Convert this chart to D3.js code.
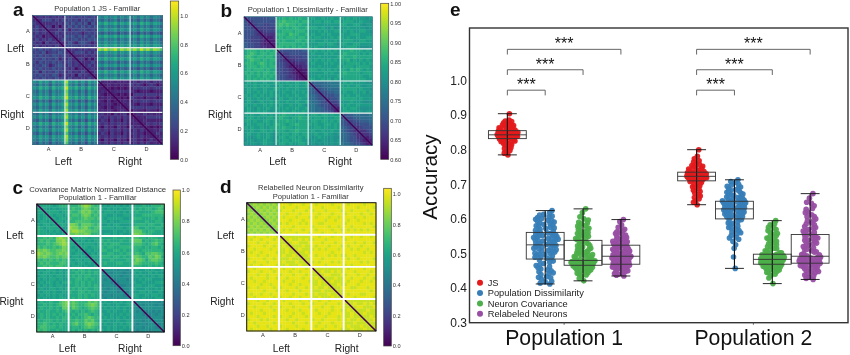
<!DOCTYPE html>
<html>
<head>
<meta charset="utf-8">
<style>
  html, body { margin: 0; padding: 0; background: #fff; }
  svg { display: block; filter: blur(0.35px); }
  text { font-family: "Liberation Sans", Arial, sans-serif; }
  .tick text { font-family: "Liberation Sans", Arial, sans-serif; }
</style>
<script src="https://cdn.jsdelivr.net/npm/d3@7"></script>
</head>
<body>
<script>
// heatmaps: lower triangle of each symmetric matrix, one base-36 digit per neuron pair
const blockNames = ["A", "B", "C", "D"];
const sideNames = ["Left", "Right"];

const jsRows = [
  "0", "30", "430", "3530", "45340", "353430", "4341330", "35343530", "434153430", "3534343530",
  "5464546545 0", "4546245465 30", "5464546545 430", "4546454625 3530", "5364546454 45340",
  "4546524565 353430", "5464546454 4341330", "4626454645 35343530", "5464546524 434153430", "4546454645 3534343530",
  "b9dac8dabd jcad9c8dac 0", "97b8a6b89b ha8b7a6b8a 20", "caebd9ebce kdbead9ebd 320", "97b8a6b89b ha8b7a6b8a 2320",
  "a8c9b7c9ac ib9c8b7c9b 32120", "caebd9ebce kdbead9ebd 232320", "86a795a78a g97a695a79 3213120",
  "b9dac8dabd jcad9c8dac 23232120", "97b8a6b89b ha8b7a6b8a 321312320", "b9dac8dabd jcad9c8dac 2323212320",
  "97b8a6b89b ha8b7a6b8a 3423142341 0", "b9dac8dabd jcad9c8dac 4342434243 20", "86a795a78a g97a695a79 2431423142 320",
  "caebd9ebce kdbead9ebd 4342434342 2320", "97b8a6b89b ha8b7a6b8a 3142314231 42320", "b9dac8dabd jcad9c8dac 4342434243 242420",
  "86a795a78a g97a695a79 2431423142 3423120", "b9dac8dabd jcad9c8dac 4342434342 24242320",
  "a8c9b7c9ac ib9c8b7c9b 3142314231 342312420", "86a795a78a g97a695a79 4342434243 2424242320"
];

const dissimRows = [
  "0", "50", "540", "5540", "55540", "555430", "5544430", "55444320", "655443220", "6554433220",
  "cdddcdcdcd 0", "cdedcddcdd 50", "dedcddcddc 540", "cdeddcdcdd 5430", "dddcdedcdc 55430",
  "cdddcddcdd 554320", "cdcdddcdcc 5544320", "dcdcdcddcd 55443210", "cdccdcdcdc 655433210", "cdcdcdcdcc 6554432210",
  "bcbcbbcbbc cbbcbbcbbc 0", "cbbcbcbcbb bcbbcbcbbc 60", "bcbcbbcbbc cbbcbbcbbb 760", "bcbbcbcbcb bbcbbcbbcb 7650",
  "cbbcbcbbcb cbbcbbcbbc 77650", "bcbbcbbcba bcbbcbbcbb 776550", "bcbabcbbcb cbbcbbcbbc 8776540",
  "cbbcbbcbcb bcbbcbbcba 88765540", "bcbacbbcbb cbbcbbcbbc 887765430", "bcbbcbcbab bbcbbcbbcb 8877665420",
  "cbcbbccbcb ccdccbcccb bccbccbcbb 0", "bccbcbbccb cdccbccdcc cbccbcbbcc 50", "ccbcbbccbc cccdccbccc bccbccbcbc 650",
  "bcbbccbcbc dccbccdccc cbcbbccbcb 6540", "cbcbbcbbcc ccdccbcccc bbccbcbbcb 76540", "bbcbbccbcb cccbccdccc bcbbcbbcbb 765430",
  "bcbbcbbcba cbccbccbcc bbcbbcbbab 7765430", "bbabcbbcba bccbccbcbc babcbbabaa 77655330",
  "abbabbcbba cbccbcccbb abbabbabab 776554320", "babbabcbba bccbcbbccb ababababab 8776554320"
];

const covRows = [
  "0", "c0", "cc0", "cbc0", "cbcc0", "bccbc0", "cbccbc0", "dcbcccc0", "dccbcbcb0", "dcccbcbbc0",
  "ddededghgf 0", "dededdgghf c0", "dddedefghg cc0", "ededdedegf cbc0", "gfgfeeffgf ccbc0",
  "hgfgfefgfg cbccb0", "gfgfeefeff bccbcb0", "ededededed cbccbcc0", "dededddeed ccbccbcb0", "ddededeedd bcccbcbbc0",
  "bcbcccbcbb cdcddcdccc 0", "cbccbcbcbc ccdcdcdcdc a0", "bccbcbccbc cdcdcddccc aa0", "cbcbccbcbb ccddcdcdcc a9a0",
  "bcbccbcbcc dcdcdcdccc aaa90", "cbcbcbccbb ccdcdcdcdc 9aaa90", "bcbbccbcbc cdcdcdccdc aa9aa90",
  "cbccbcbbcb dccddcdccc a9aaa9a0", "bcbcbcbcbb cccdcdcdcc 9aa9aaa90", "cbcbbcbccb cdcdcdcccc a9aaa9aaa0",
  "cdccdccefg efedddfefd bcbbcbcbcb 0", "ccdcdcdefg efeddefgfd cbcbbcbbcc a0", "cdccdcdcff dfedcdefed bcbcbcbcbb aa0",
  "dccdccdcde dcdcdcdedc bbcbcbbcbc a9a0", "cdcdcdcdcd cdcddedcdc cbbcbbcbcb aaa90", "cdcdccdcdd dcdcdefedd bcbcbcbcbb 9aaa90",
  "dcdddcdcdc ddeddfefdc cbcbbcbbcb aaa9aa0", "ddedcdcdcc defddfgfed bcbbcbcbcc a9aa9aa0",
  "deedddcdcc cddcdefedc bbcbcbbcbc 9aa9aaa90", "ededccdccc cdcdcdcdcd cbcbcbcbbb a9aaa9aaa0"
];

const relabelRows = [
  "0", "h0", "ih0", "hih0", "ihih0", "hihih0", "ihihih0", "hihihih0", "ihihihih0", "hihihihih0",
  "kkjkkkjkkj 0", "kjkkjkkkjk j0", "kkkjkkjkkk jj0", "jkkkkjkkjk jkj0", "kkjkkkkjkk jjkj0",
  "kjkkjkkkkj jjkjj0", "kkkjkkjkkk jkjjkj0", "jkkkkjkkjk jjjkjjj0", "kkjkkkjkkk jkjjjkjj0", "kjkkjkkkkj jjkjjjkjj0",
  "kkjkkkkjkk kjkkjkkkjk 0", "jkkkjkkkjk kkkjkkjkkk j0", "kkkjkkjkkk jkkkjkkkjk jj0", "kjkkkkjkkj kkjkkkkjkk jkj0",
  "kkjkkjkkkk kjkkjkkkkj jjkj0", "kkkkjkkjkk kkkjkkjkkk jjkjj0", "jkkjkkkkjk jkkkkjkkjk jkjjkj0",
  "kkkkkjkkkj kkjkkkjkkk jjjkjjj0", "kjkkjkkjkk kkkkjkkkjk jkjjjkjj0", "kkjkkkkkjk jkkjkkjkkk jjkjjjkjj0",
  "kkkjkkjkkk kjkkkkjkkj kkjkkjkkkk 0", "jkkkkjkkjk kkkjkkkjkk jkkkjkkkjk j0", "kkjkkkkjkk jkkkjkkkkj kkkjkkjkkk jj0",
  "kkkkjkkkjk kkjkkkjkkk kjkkkkjkkj jkj0", "kjkkkjkkkk kkkkjkkjkk kkjkkjkkkk jjkj0", "kkkjkkkkjk jkkjkkkkjk kkkkjkkkjk jjkjj0",
  "jkkkjkjkkk kkjkkjkkkk jkkjkkkkjk jkjjkj0", "kkjkkkkkjk kkkkjkkkjk kkjkkkjkkk jjjkjjj0",
  "kkkjkkjkkk jkkkkjkkkk kjkkjkkjkk jkjjjkjj0", "kjkkkkkjkk kkjkkkkjkk kkkjkkkkkj jjkjjjkjj0"
];

const barTicks = [0, 0.2, 0.4, 0.6, 0.8, 1.0];
const dissimBarTicks = [0.6, 0.65, 0.7, 0.75, 0.8, 0.85, 0.9, 0.95, 1.0];

// accuracy per run, one list per method and population
const populations = ["Population 1", "Population 2"];
const methods = ["JS", "Population Dissimilarity", "Neuron Covariance", "Relabeled Neurons"];
const accTicks = [0.3, 0.4, 0.5, 0.6, 0.7, 0.8, 0.9, 1.0];

const js1 = [.785,.79,.795,.798,.803,.806,.808,.812,.815,.817,.819,.821,.823,.825,.826,.828,.829,.831,
  .832,.833,.834,.834,.835,.836,.836,.837,.838,.838,.839,.839,.84,.84,.841,.841,.842,.842,
  .843,.843,.844,.845,.845,.846,.847,.847,.848,.849,.849,.85,.851,.851,.852,.853,.854,.854,
  .856,.857,.858,.86,.861,.863,.865,.866,.868,.87,.872,.874,.876,.878,.881,.883,.886,.904];
const pd1 = [.412,.414,.418,.42,.426,.43,.433,.439,.442,.447,.45,.453,.459,.462,.467,.471,.475,.481,
  .484,.486,.49,.493,.495,.498,.5,.501,.504,.507,.509,.511,.513,.516,.518,.52,.522,.524,
  .526,.527,.53,.533,.534,.537,.538,.54,.543,.544,.547,.548,.551,.552,.555,.556,.558,.56,
  .563,.565,.57,.572,.576,.58,.582,.584,.588,.591,.593,.596,.601,.604,.608,.611,.618,.624,
  .431,.444,.455,.465,.478,.489,.497,.506,.515,.523,.529,.536,.541,.546,.553,.559,.567,.574,.579,.586,.594,.599,.606,.613];
const nc1 = [.421,.428,.434,.438,.441,.444,.447,.449,.451,.453,.455,.457,.459,.46,.462,.463,.465,.466,
  .467,.468,.469,.47,.471,.472,.473,.473,.474,.475,.475,.476,.477,.477,.478,.478,.479,.48,
  .482,.485,.488,.49,.493,.496,.498,.501,.504,.507,.51,.513,.516,.519,.523,.527,.531,.537,
  .54,.544,.547,.551,.554,.558,.561,.565,.569,.573,.577,.581,.586,.59,.597,.606,.618,.629,
  .443,.452,.458,.464,.47,.474,.479,.484,.491,.497,.503,.509,.515,.522,.528,.535,.543,.55,.556,.563,.571,.579,.588,.6];
const rn1 = [.435,.437,.44,.443,.446,.449,.451,.453,.455,.457,.459,.46,.462,.463,.465,.466,.467,.468,
  .47,.471,.473,.474,.476,.477,.478,.48,.481,.482,.483,.485,.486,.487,.488,.489,.49,.491,
  .493,.494,.496,.498,.499,.501,.503,.505,.507,.508,.51,.512,.514,.516,.518,.52,.522,.523,
  .525,.527,.529,.531,.533,.535,.537,.54,.543,.546,.55,.555,.56,.563,.57,.576,.592,.598,
  .442,.45,.456,.461,.466,.472,.477,.482,.487,.492,.497,.502,.507,.512,.517,.522,.528,.534,.54,.547,.553,.558,.566,.582];
const js2 = [.641,.648,.653,.658,.662,.666,.671,.675,.679,.683,.687,.69,.693,.696,.699,.702,.705,.708,
  .71,.711,.712,.713,.714,.715,.716,.716,.717,.718,.718,.719,.72,.72,.721,.721,.722,.722,
  .723,.724,.724,.725,.726,.726,.727,.728,.728,.729,.73,.73,.731,.732,.732,.733,.734,.734,
  .736,.737,.739,.74,.742,.744,.746,.748,.75,.752,.754,.757,.76,.764,.768,.774,.781,.8];
const pd2 = [.457,.49,.515,.525,.535,.541,.547,.552,.557,.562,.566,.57,.575,.579,.583,.587,.592,.597,
  .6,.603,.605,.607,.609,.611,.612,.614,.616,.617,.619,.62,.622,.623,.624,.626,.627,.628,
  .63,.631,.632,.633,.635,.636,.637,.638,.639,.64,.641,.642,.644,.645,.646,.647,.649,.65,
  .652,.654,.656,.658,.66,.663,.665,.668,.671,.674,.677,.68,.684,.688,.692,.698,.705,.713,
  .545,.56,.574,.588,.598,.606,.613,.62,.626,.632,.637,.642,.647,.652,.657,.662,.667,.672,.678,.683,.689,.694,.7,.708];
const nc2 = [.413,.429,.436,.44,.444,.447,.45,.452,.454,.456,.458,.46,.461,.462,.464,.465,.467,.468,
  .469,.47,.471,.472,.473,.474,.475,.475,.476,.477,.478,.478,.479,.48,.48,.481,.482,.482,
  .483,.484,.485,.486,.487,.487,.488,.489,.49,.491,.492,.493,.493,.494,.495,.496,.497,.497,
  .499,.502,.506,.51,.515,.52,.525,.53,.535,.54,.545,.551,.556,.562,.569,.576,.586,.595,
  .445,.452,.458,.463,.468,.473,.477,.481,.485,.489,.493,.497,.502,.508,.514,.521,.528,.535,.542,.55,.558,.566,.574,.583];
const rn2 = [.425,.428,.432,.436,.44,.444,.447,.45,.453,.456,.458,.46,.462,.464,.466,.468,.47,.471,
  .472,.474,.475,.476,.477,.478,.479,.48,.481,.482,.483,.484,.485,.486,.487,.489,.49,.491,
  .493,.496,.5,.504,.508,.512,.516,.52,.524,.528,.531,.535,.539,.542,.545,.548,.551,.554,
  .557,.561,.565,.569,.573,.578,.583,.588,.594,.6,.606,.612,.62,.628,.638,.648,.66,.673,
  .438,.448,.457,.465,.472,.478,.484,.49,.497,.505,.513,.521,.53,.538,.547,.556,.565,.575,.585,.596,.607,.618,.63,.645];

// [min, q1, median, q3, max]
const boxes1 = [[.785,.832,.843,.855,.904], [.412,.484,.525,.561,.624], [.421,.466,.48,.538,.629], [.435,.469,.492,.524,.598]];
const boxes2 = [[.641,.71,.723,.735,.8], [.457,.6,.629,.651,.713], [.413,.469,.483,.498,.595], [.425,.472,.492,.555,.673]];
const bracketLevels = [1.09, 1.031, 0.972];

let width = 850, height = 355;
let svg = d3.select("body").append("svg").attr("width", width).attr("height", height);

let defs = svg.append("defs");
defs.append("filter").attr("id", "soft").append("feGaussianBlur").attr("stdDeviation", 0.7);

let viridis = (domain) => d3.scaleSequential(d3.interpolateViridis).domain(domain);

// one heatmap panel with its colorbar
function drawHeat(p) {
    let n = p.rows.length;
    let clean = p.rows.map((r) => r.replace(/ /g, ""));
    let cellValue = (i, j) => p.decode(parseInt(clean[Math.max(i, j)][Math.min(i, j)], 36));

    let x = d3.scaleBand().domain(d3.range(n)).range(p.xr);
    let y = d3.scaleBand().domain(d3.range(n)).range(p.yr);
    let color = viridis(p.domain);
    let cells = d3.cross(d3.range(n), d3.range(n));

    let g = svg.append("g");
    // diagonal cells take a neighbour's colour, the diagonal itself is a thin line on top
    g.append("g").attr("filter", "url(#soft)").selectAll("rect.cell").data(cells).join("rect")
        .attr("class", "cell")
        .attr("x", (d) => x(d[1]))
        .attr("y", (d) => y(d[0]))
        .attr("width", x.bandwidth() + 0.3)
        .attr("height", y.bandwidth() + 0.3)
        .attr("fill", (d) => color(d[0] == d[1] ? cellValue(d[0], d[0] > 0 ? d[0] - 1 : 1) : cellValue(d[0], d[1])));

    g.append("line")
        .attr("x1", x(0)).attr("y1", y(0))
        .attr("x2", x(n - 1) + x.bandwidth()).attr("y2", y(n - 1) + y.bandwidth())
        .attr("stroke", color(cellValue(0, 0))).attr("stroke-width", p.diagWidth);

    let blockX = d3.scaleBand().domain(blockNames).range(p.xr);
    let blockY = d3.scaleBand().domain(blockNames).range(p.yr);
    g.selectAll("line.vsep").data(blockNames.slice(1)).join("line")
        .attr("x1", (d) => blockX(d)).attr("x2", (d) => blockX(d))
        .attr("y1", p.yr[0]).attr("y2", p.yr[1])
        .attr("stroke", p.sep).attr("stroke-width", p.sepWidth);
    g.selectAll("line.hsep").data(blockNames.slice(1)).join("line")
        .attr("y1", (d) => blockY(d)).attr("y2", (d) => blockY(d))
        .attr("x1", p.xr[0]).attr("x2", p.xr[1])
        .attr("stroke", p.sep).attr("stroke-width", p.sepWidth);
    g.append("rect")
        .attr("x", p.xr[0]).attr("y", p.yr[0])
        .attr("width", p.xr[1] - p.xr[0]).attr("height", p.yr[1] - p.yr[0])
        .attr("fill", "none").attr("stroke", p.frame).attr("stroke-width", p.frameWidth);

    let bottom = g.append("g").attr("transform", `translate(0,${p.yr[1]})`)
        .call(d3.axisBottom(blockX).tickSize(0).tickPadding(p.pad));
    let left = g.append("g").attr("transform", `translate(${p.xr[0]},0)`)
        .call(d3.axisLeft(blockY).tickSize(0).tickPadding(p.pad));
    [bottom, left].forEach((a) => {
        a.select(".domain").remove();
        a.selectAll("text").attr("font-size", 5.6).attr("fill", "#333");
    });

    p.title.forEach((t, i) => {
        g.append("text").attr("x", p.titleX).attr("y", p.titleY[i])
            .attr("text-anchor", "middle").attr("font-size", p.titleSize).attr("fill", "#333").text(t);
    });
    g.append("text").attr("x", p.letterX).attr("y", p.letterY)
        .attr("font-size", 19).attr("font-weight", "bold").attr("fill", "#111").text(p.letter);

    // side labels
    sideNames.forEach((s, i) => {
        g.append("text").attr("x", p.sideRight).attr("y", p.sideY[i])
            .attr("text-anchor", "end").attr("font-size", 10.2).attr("fill", "#222").text(s);
        g.append("text").attr("x", p.bottomX[i]).attr("y", p.bottomY)
            .attr("text-anchor", "middle").attr("font-size", 10.2).attr("fill", "#222").text(s);
    });

    // colorbar
    let barY = d3.scaleLinear().domain(p.domain).range([p.bar.y1, p.bar.y0]);
    let gradId = `grad-${p.letter}`;
    let grad = defs.append("linearGradient").attr("id", gradId)
        .attr("x1", 0).attr("x2", 0).attr("y1", 1).attr("y2", 0);
    d3.range(0, 1.001, 0.05).forEach((t) => {
        grad.append("stop").attr("offset", t).attr("stop-color", d3.interpolateViridis(t));
    });
    g.append("rect").attr("x", p.bar.x0).attr("y", p.bar.y0)
        .attr("width", p.bar.x1 - p.bar.x0).attr("height", p.bar.y1 - p.bar.y0)
        .attr("fill", `url(#${gradId})`).attr("stroke", "#444").attr("stroke-width", 0.7);
    let barAxis = g.append("g").attr("transform", `translate(${p.bar.x1},0)`)
        .call(d3.axisRight(barY).tickValues(p.ticks).tickFormat(d3.format(p.fmt)).tickSize(0).tickPadding(1.5));
    barAxis.select(".domain").remove();
    barAxis.selectAll("text").attr("font-size", 5.6).attr("fill", "#333");
}

const step20 = (d) => d / 20;

drawHeat({ letter: "a", rows: jsRows, decode: step20, domain: [0, 1.103], ticks: barTicks, fmt: ".1f",
    xr: [32.3, 162.7], yr: [15.3, 144.7], sep: "#e4ecf2", sepWidth: 1.1, frame: "#3a6f7f", frameWidth: 0.6, pad: 2.5, diagWidth: 1.4,
    title: ["Population 1 JS - Familiar"], titleX: 97.3, titleY: [11], titleSize: 7.5,
    letterX: 13, letterY: 16, sideRight: 24, sideY: [52, 117.7], bottomX: [63.3, 130], bottomY: 164.7,
    bar: { x0: 170.3, x1: 178.7, y0: 1, y1: 159.3 } });

drawHeat({ letter: "b", rows: dissimRows, decode: (d) => 0.6 + d * 0.02, domain: [0.6, 1.0], ticks: dissimBarTicks, fmt: ".2f",
    xr: [244, 372.3], yr: [16.7, 145.3], sep: "#eef3f3", sepWidth: 1.1, frame: "#2f6f7f", frameWidth: 0.6, pad: 2.5, diagWidth: 1.4,
    title: ["Population 1 Dissimilarity - Familiar"], titleX: 307.7, titleY: [12], titleSize: 7.7,
    letterX: 220.5, letterY: 16.6, sideRight: 231.7, sideY: [52.3, 117.7], bottomX: [277.7, 340], bottomY: 164.7,
    bar: { x0: 380.7, x1: 388.7, y0: 3.3, y1: 159.3 } });

drawHeat({ letter: "c", rows: covRows, decode: step20, domain: [0, 1.0], ticks: barTicks, fmt: ".1f",
    xr: [36.7, 164.3], yr: [204, 332], sep: "#fff", sepWidth: 1.9, frame: "#111", frameWidth: 1, pad: 2, diagWidth: 1.6,
    title: ["Covariance Matrix Normalized Distance", "Population 1 - Familiar"], titleX: 97.7, titleY: [192, 199.5], titleSize: 7.8,
    letterX: 12.5, letterY: 193.5, sideRight: 23.3, sideY: [239.3, 304.7], bottomX: [67.3, 130], bottomY: 351.7,
    bar: { x0: 173, x1: 180.3, y0: 190, y1: 345.7 } });

drawHeat({ letter: "d", rows: relabelRows, decode: step20, domain: [0, 1.0375], ticks: barTicks, fmt: ".1f",
    xr: [246.7, 376], yr: [202.7, 331], sep: "#fff", sepWidth: 1.9, frame: "#111", frameWidth: 1, pad: 2, diagWidth: 1.6,
    title: ["Relabelled Neuron Dissimilarity", "Population 1 - Familiar"], titleX: 310.7, titleY: [189.7, 198.7], titleSize: 7.6,
    letterX: 220, letterY: 193, sideRight: 234, sideY: [239.3, 304.7], bottomX: [281.3, 346.7], bottomY: 351.7,
    bar: { x0: 383.7, x1: 391.3, y0: 188.3, y1: 346 } });

// panel e
let plot = { left: 469.5, right: 848, top: 28, bottom: 322.7 };
let methodColors = ["#E41A1C", "#377EB8", "#4DAF4A", "#984EA3"];

let x = d3.scaleBand().domain(populations).range([plot.left, plot.right]);
let y = d3.scaleLinear().domain([0.3, 1.1517]).range([plot.bottom, plot.top]);
let methodX = d3.scaleBand().domain(methods).range([0, x.bandwidth() * 4 / 5]);
let center = (pop, m) => x(pop) + x.bandwidth() / 10 + methodX(m) + methodX.bandwidth() / 2;

let groups = [
    { pop: populations[0], values: [js1, pd1, nc1, rn1], boxes: boxes1, spread: [10.5, 13, 12, 10] },
    { pop: populations[1], values: [js2, pd2, nc2, rn2], boxes: boxes2, spread: [10, 12, 12, 11] }
];

let chartGroup = svg.append("g");

groups.forEach((grp) => {
    methods.forEach((m, mi) => {
        let cx = center(grp.pop, m);
        // spread the points sideways so they don't pile up, y stays on the value
        let nodes = grp.values[mi].map((v) => ({ v: v, fy: y(v) }));
        d3.forceSimulation(nodes)
            .force("x", d3.forceX(0).strength(0.05))
            .force("collide", d3.forceCollide(1.75))
            .stop()
            .tick(200);
        let widest = d3.max(nodes, (d) => Math.abs(d.x));
        let squeeze = d3.scalePow().exponent(0.6).domain([0, widest]).range([0, grp.spread[mi]]);
        chartGroup.append("g").selectAll("circle").data(nodes).join("circle")
            .attr("cx", (d) => cx + Math.sign(d.x) * squeeze(Math.abs(d.x)))
            .attr("cy", (d) => y(d.v))
            .attr("r", 2.8)
            .attr("fill", methodColors[mi])
            .attr("fill-opacity", 0.95);
    });
});

groups.forEach((grp) => {
    methods.forEach((m, mi) => {
        let cx = center(grp.pop, m);
        let s = grp.boxes[mi];
        let bw = methodX.bandwidth();
        let g = chartGroup.append("g").attr("stroke", "#111").attr("fill", "none");
        g.append("line").attr("x1", cx).attr("x2", cx).attr("y1", y(s[4])).attr("y2", y(s[0])).attr("stroke-width", 1.1);
        [s[0], s[4]].forEach((v) => {
            g.append("line").attr("x1", cx - bw / 4).attr("x2", cx + bw / 4).attr("y1", y(v)).attr("y2", y(v)).attr("stroke-width", 0.9);
        });
        g.append("rect").attr("x", cx - bw / 2).attr("y", y(s[3]))
            .attr("width", bw).attr("height", y(s[1]) - y(s[3])).attr("stroke", "#333").attr("stroke-width", 0.9);
        g.append("line").attr("x1", cx - bw / 2).attr("x2", cx + bw / 2).attr("y1", y(s[2])).attr("y2", y(s[2])).attr("stroke", "#333").attr("stroke-width", 0.9);
    });

    // significance brackets from JS to each other method
    let x0 = center(grp.pop, methods[0]);
    bracketLevels.forEach((level, i) => {
        let x1 = center(grp.pop, methods[3 - i]);
        let drop = y(level - 0.015);
        chartGroup.append("path")
            .attr("d", d3.line()([[x0, drop], [x0, y(level)], [x1, y(level)], [x1, drop]]))
            .attr("fill", "none").attr("stroke", "#555").attr("stroke-width", 0.9);
        chartGroup.append("text").attr("x", (x0 + x1) / 2).attr("y", y(level) - 0.2)
            .attr("text-anchor", "middle").attr("font-size", 16).attr("fill", "#111").text("***");
    });
});

chartGroup.append("rect").attr("x", plot.left).attr("y", plot.top)
    .attr("width", plot.right - plot.left).attr("height", plot.bottom - plot.top)
    .attr("fill", "none").attr("stroke", "#333").attr("stroke-width", 1.4);

let yAxis = chartGroup.append("g").attr("transform", `translate(${plot.left},0)`)
    .call(d3.axisLeft(y).tickValues(accTicks).tickFormat(d3.format(".1f")).tickSize(0).tickPadding(2.5));
yAxis.select(".domain").remove();
yAxis.selectAll("text").attr("font-size", 12).attr("fill", "#222");

let xAxis = chartGroup.append("g").attr("transform", `translate(0,${plot.bottom})`)
    .call(d3.axisBottom(x).tickSize(2).tickPadding(5.3));
xAxis.select(".domain").remove();
xAxis.selectAll("line").attr("stroke", "#555");
xAxis.selectAll("text").attr("font-size", 21.2).attr("fill", "#111");

chartGroup.append("text")
    .attr("transform", `translate(436.7,177) rotate(-90)`)
    .attr("text-anchor", "middle").attr("font-size", 20.8).attr("fill", "#111").text("Accuracy");

chartGroup.append("text").attr("x", 450).attr("y", 16)
    .attr("font-size", 19).attr("font-weight", "bold").attr("fill", "#111").text("e");

// legend
let legendY = d3.scaleBand().domain(methods).range([277.5, 319]);
let legend = chartGroup.append("g").selectAll("g").data(methods).join("g")
    .attr("transform", (d) => `translate(480,${legendY(d) + legendY.bandwidth() / 2})`);
legend.append("circle").attr("r", 3).attr("fill", (d, i) => methodColors[i]);
legend.append("text").attr("x", 7.7).attr("y", 3.1)
    .attr("font-size", 9.3).attr("fill", "#222").text((d) => d);
</script>
</body>
</html>
